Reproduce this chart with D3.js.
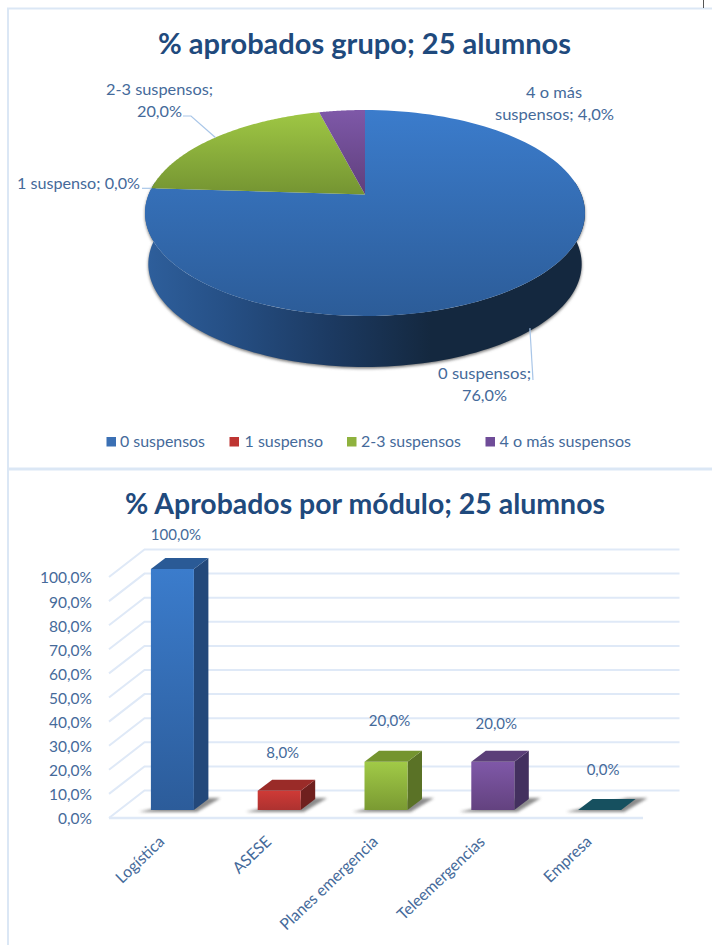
<!DOCTYPE html>
<html><head><meta charset="utf-8">
<script src="https://cdn.jsdelivr.net/npm/d3@7/dist/d3.min.js"></script>
<style>html,body{margin:0;padding:0;background:#fff}svg{display:block}text{font-family:Lato,"Open Sans",sans-serif}</style>
</head><body><svg id="c" width="712" height="945"></svg>
<script>
// ---- data ----
const pieTitle = "% aprobados grupo; 25 alumnos";
const pieCategories = ["0 suspensos", "1 suspenso", "2-3 suspensos", "4 o más suspensos"];
const pieValues = [76, 0, 20, 4];
const barTitle = "% Aprobados por módulo; 25 alumnos";
const barCategories = ["Logística", "ASESE", "Planes emergencia", "Teleemergencias", "Empresa"];
const barValues = [100, 8, 20, 20, 0];
const axisTicks = [0, 10, 20, 30, 40, 50, 60, 70, 80, 90, 100];

// ---- style ----
const textColor = "#456a9a", titleColor = "#1f4a7d", frame = "#dbe7f5", gridColor = "#dfe9f7", leader = "#a9c6e8";
const pieFills = [["#3b7ccc", "#2c5c98"], ["#cc3a36", "#a82f2c"], ["#9fc744", "#749432"], ["#7e58a8", "#5f3f7c"]];
const legendFills = ["#3b70b4", "#be3532", "#8fb23e", "#6f4c98"];
const barStyles = [
  {f:["#3b7ccc", "#2c5c9a"], s:"#23487a", t:"#2a5a96"},
  {f:["#cf3a36", "#ad3230"], s:"#6f201e", t:"#9a2b28"},
  {f:["#a1ca47", "#7a9a32"], s:"#5a7226", t:"#74942f"},
  {f:["#7f58a8", "#63427f"], s:"#43305f", t:"#5b3f78"},
  {f:["#16505f", "#16505f"], s:"#16505f", t:"#16505f"}
];

const svg = d3.select("#c");
const defs = svg.append("defs");
const blur = defs.append("filter").attr("id","blur").attr("x","-30%").attr("y","-60%").attr("width","160%").attr("height","220%");
blur.append("feGaussianBlur").attr("stdDeviation",1.6);
function vgrad(id, a, b){
  const g = defs.append("linearGradient").attr("id",id).attr("x1",0).attr("y1",0).attr("x2",0).attr("y2",1);
  g.append("stop").attr("offset",0).attr("stop-color",a);
  g.append("stop").attr("offset",1).attr("stop-color",b);
  return `url(#${id})`;
}
function fit(sel, w){ return sel.attr("textLength",w).attr("lengthAdjust","spacingAndGlyphs"); }
function label(txt, x, y, w, size, color, weight){
  const t = svg.append("text").attr("x",x).attr("y",y).attr("dy","0.35em")
    .attr("font-size",size).attr("fill",color).attr("font-weight",weight||400).text(txt);
  if (w) fit(t,w);
  return t;
}

// ---- frame ----
svg.append("path").attr("d","M8,945V8.5H712").attr("fill","none").attr("stroke",frame).attr("stroke-width",2);
svg.append("path").attr("d","M8,469H712").attr("stroke",frame).attr("stroke-width",3);
svg.append("path").attr("d","M703.5,0V8").attr("stroke","#555").attr("stroke-width",1);

// ---- titles ----
label(pieTitle,158,43.5,413,29,titleColor,700);
label(barTitle,125,504,480,29,titleColor,700);

// ---- pie with perspective projection ----
const cx=365, tipY=194.5, R=216.4, C=0.1796, A=-64.74, depth=51;
function proj(a, lower){
  const u=Math.sin(a), v=Math.cos(a), d=1+C*v, k=lower?0.985:1;
  return [cx+k*R*u/d, (A*v+tipY)/d+(lower?depth:0)];
}
const arcs = d3.pie().sort(null).value(d=>d)(pieValues);
const line = d3.line();
function sample(a0,a1,lower){ return d3.range(0,121).map(i=>proj(a0+(a1-a0)*i/120,lower)); }

const sg = defs.append("linearGradient").attr("id","side").attr("gradientUnits","userSpaceOnUse").attr("x1",145).attr("x2",585).attr("y1",0).attr("y2",0);
[[0,"#2e5f9c"],[0.18,"#265086"],[0.42,"#1c3a62"],[0.65,"#14283f"],[1,"#14283f"]]
  .forEach(s=>sg.append("stop").attr("offset",s[0]).attr("stop-color",s[1]));

// side wall: front half of the rim, from right extreme round to left extreme
const rimFront = sample(Math.PI*0.46, Math.PI*1.54, false);
const rimBottom = sample(Math.PI*1.54, Math.PI*0.46, true);
const wall = line(rimFront.concat(rimBottom))+"Z";
svg.append("path").attr("d",wall).attr("fill","#777").attr("transform","translate(0,1.5)").attr("filter","url(#blur)");
svg.append("path").attr("d",wall).attr("fill","url(#side)");

arcs.forEach((a,i)=>{
  if (a.endAngle-a.startAngle<=0) return;
  const pts=[[cx,tipY]].concat(sample(a.startAngle,a.endAngle,false));
  svg.append("path").attr("d",line(pts)+"Z").attr("fill",vgrad("p"+i,pieFills[i][0],pieFills[i][1]));
});

// leader lines start at each slice's mid-rim point
const mid = i => (arcs[i].startAngle+arcs[i].endAngle)/2;
function lead(pts){ svg.append("path").attr("d",line(pts)).attr("fill","none").attr("stroke",leader).attr("stroke-width",1.2); }
{
  const p0=proj(mid(0),true); lead([[p0[0]-3,p0[1]-1],[533,380]]);
  const p1=proj(mid(1)); lead([p1,[142,p1[1]]]);
  const p2=proj(mid(2)); lead([p2,[191,116],[183,116]]);
}
// pie labels
const pct = d3.formatLocale({decimal:",",thousands:".",grouping:[3],currency:["","€"]}).format(".1f");
const pl = v => pct(v)+"%";
label(pieCategories[2]+";",106,90,107,15,textColor);
label(pl(pieValues[2]),137,112,45,15,textColor);
label("4 o más",526,93,56,15,textColor);
label("suspensos; "+pl(pieValues[3]),495,115,119,15,textColor);
label(pieCategories[1]+"; "+pl(pieValues[1]),17,184,123,15,textColor);
label(pieCategories[0]+";",438,374,93,15,textColor);
label(pl(pieValues[0]),462,396,45,15,textColor);

// legend
const legX=[106.5,229.5,347,485.5], legT=[120,244.5,361,499.5], legW=[85,78.5,100,131.5];
pieCategories.forEach((c,i)=>{
  svg.append("rect").attr("x",legX[i]).attr("y",437).attr("width",9.5).attr("height",9.5).attr("fill",legendFills[i]);
  label(c,legT[i],441.5,legW[i],15,textColor);
});

// ---- 3D bars ----
const x = d3.scaleBand().domain(barCategories).range([109,643]);
const y = d3.scaleLinear().domain([0,100]).range([818,577]);
const wallDx=35.5, wallDy=27.5, barDx=14.5, barDy=11, barW=43, barShiftX=10, barShiftY=8;
const xRight=643;

// grid: side wall diagonals + back wall lines
const grid = svg.append("g").attr("fill","none").attr("stroke",gridColor).attr("stroke-width",2);
axisTicks.forEach(t=>{
  const yy=y(t);
  grid.append("path").attr("d",line([[109,yy],[109+wallDx,yy-wallDy],[xRight+wallDx+1,yy-wallDy]]));
});
grid.append("path").attr("d",line([[109,y(0)],[xRight,y(0)]])).attr("stroke-width",2.5);

// axes (text only; the lines are drawn above in 3D)
const yAxis = svg.append("g").attr("transform","translate(92,1)")
  .call(d3.axisLeft(y).tickValues(axisTicks).tickFormat(pl).tickSize(0).tickPadding(0));
yAxis.select(".domain").remove();
yAxis.selectAll("text").attr("font-size",15.5).attr("fill",textColor).style("font-family","Lato");

const xAxis = svg.append("g").attr("transform","translate(0,835)")
  .call(d3.axisBottom(x).tickSize(0).tickPadding(0));
xAxis.select(".domain").remove();
xAxis.selectAll("text").attr("font-size",16).attr("fill",textColor).style("font-family","Lato")
  .attr("text-anchor","end").attr("dy",0).attr("y",0).attr("x",0)
  .attr("transform","translate(3,8) rotate(-43.5)")
  .each(function(){ fit(d3.select(this), this.getComputedTextLength()*0.98); });

// bars
const poly = pts => line(pts)+"Z";
const labelDy=[-34,-38,-41,-38.5,-40.5];
barCategories.forEach((c,i)=>{
  const st=barStyles[i], bx=x(c)+x.bandwidth()/2+barShiftX-barW/2, yb=y(0)-barShiftY, yt=y(barValues[i])-barShiftY;
  // ground shadow
  svg.append("path").attr("d",poly([[bx-12,yb+2],[bx+barW+3,yb+2],[bx+barW+barDx+12,yb-barDy-1],[bx+barW+barDx-8,yb-barDy-1]]))
    .attr("fill","#777").attr("opacity",0.85).attr("filter","url(#blur)");
  if (barValues[i]>0){
    svg.append("path").attr("d",poly([[bx+barW,yb],[bx+barW+barDx,yb-barDy],[bx+barW+barDx,yt-barDy],[bx+barW,yt]])).attr("fill",st.s);
    svg.append("rect").attr("x",bx).attr("y",yt).attr("width",barW).attr("height",yb-yt).attr("fill",vgrad("b"+i,st.f[0],st.f[1]));
  }
  svg.append("path").attr("d",poly([[bx,yt],[bx+barDx,yt-barDy],[bx+barW+barDx,yt-barDy],[bx+barW,yt]])).attr("fill",st.t);
  label(pl(barValues[i]),bx+25,yt+labelDy[i],0,15,textColor).attr("text-anchor","middle");
});
</script></body></html>
